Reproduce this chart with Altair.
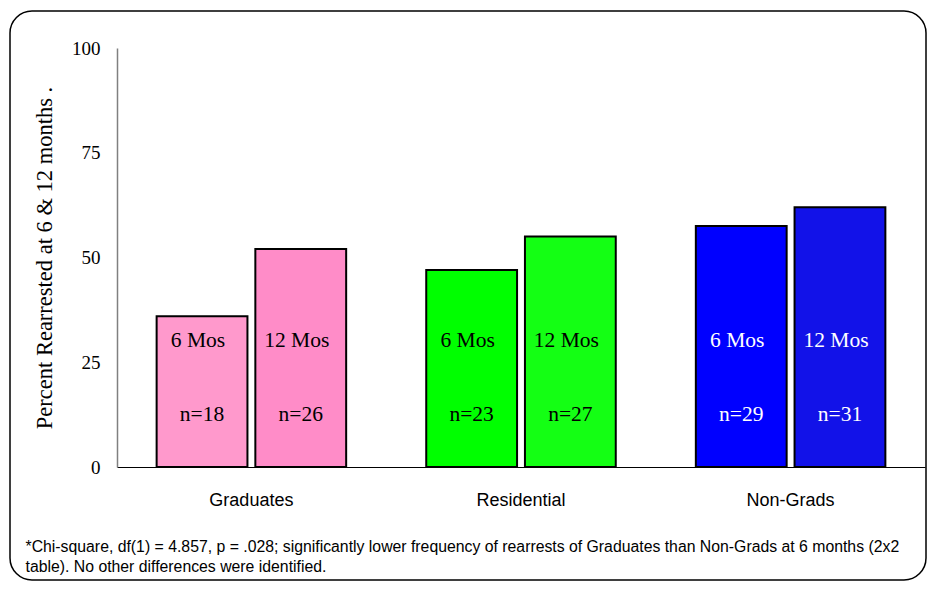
import altair as alt
import pandas as pd

groups = ["Graduates", "Residential", "Non-Grads"]
periods = ["6 Mos", "12 Mos"]
six_month_pct = [36, 47, 57.5]
twelve_month_pct = [52, 55, 62]
six_month_n = [18, 23, 29]
twelve_month_n = [26, 27, 31]
bar_colors = ["#FF99CC", "#FF8CC8", "#00FF00", "#14FF14", "#0000FF", "#1212E8"]
y_ticks = [0, 25, 50, 75, 100]
footnote = [
    "*Chi-square, df(1) = 4.857, p  = .028; significantly lower frequency of rearrests of "
    "Graduates than Non-Grads at 6 months (2x2",
    "table). No other differences were identified.",
]

rows = []
for g, p6, p12, n6, n12 in zip(groups, six_month_pct, twelve_month_pct, six_month_n, twelve_month_n):
    rows.append({"group": g, "period": "6 Mos", "pct": p6, "n": f"n={n6}", "key": f"{g} 6"})
    rows.append({"group": g, "period": "12 Mos", "pct": p12, "n": f"n={n12}", "key": f"{g} 12"})
df = pd.DataFrame(rows)
keys = list(df["key"])

serif = "Liberation Serif"
sans = "Liberation Sans"

x_enc = alt.X(
    "group:N",
    sort=groups,
    scale=alt.Scale(paddingInner=0.297, paddingOuter=0.147),
    axis=alt.Axis(
        title=footnote,
        titleX=-92,
        titleY=72,
        titleAlign="left",
        titleAnchor="start",
        titleBaseline="top",
        titleAngle=0,
        titleFont=sans,
        titleFontSize=15.8,
        titleFontWeight="normal",
        titleLineHeight=20,
        titleColor="black",
        labelAngle=0,
        labelFont=sans,
        labelFontSize=18,
        labelColor="black",
        labelPadding=24,
        ticks=False,
        domainColor="black",
        domainWidth=1.2,
    ),
)
xoff_enc = alt.XOffset("period:N", sort=periods, scale=alt.Scale(paddingInner=0.08, paddingOuter=0))
y_enc = alt.Y(
    "pct:Q",
    scale=alt.Scale(domain=[0, 100], nice=False),
    axis=alt.Axis(
        title="Percent Rearrested at 6 & 12 months .",
        titleFont=serif,
        titleFontSize=22.5,
        titleFontWeight="normal",
        titleColor="black",
        titlePadding=15,
        values=y_ticks,
        grid=False,
        ticks=False,
        tickSize=0,
        labelFont=serif,
        labelFontSize=19,
        labelColor="black",
        labelPadding=17,
        domainColor="#808080",
        domainWidth=1.5,
    ),
)

base = alt.Chart(df)

bars = base.mark_bar(stroke="black", strokeWidth=2).encode(
    x=x_enc,
    xOffset=xoff_enc,
    y=y_enc,
    color=alt.Color("key:N", scale=alt.Scale(domain=keys, range=bar_colors), legend=None),
)

text_color = alt.condition(alt.datum.group == "Non-Grads", alt.value("white"), alt.value("black"))

period_text = base.mark_text(font=serif, fontSize=21.5, dx=-4).encode(
    x=alt.X("group:N", sort=groups),
    xOffset=alt.XOffset("period:N", sort=periods),
    y=alt.datum(30),
    text="period:N",
    color=text_color,
)

n_text = base.mark_text(font=serif, fontSize=21.5).encode(
    x=alt.X("group:N", sort=groups),
    xOffset=alt.XOffset("period:N", sort=periods),
    y=alt.datum(12.5),
    text="n:N",
    color=text_color,
)

frame = (
    alt.Chart(alt.Data(values=[{"frame": 1}]))
    .mark_rect(fillOpacity=0, stroke="black", strokeWidth=1.5, cornerRadius=22)
    .encode(x=alt.value(-107), x2=alt.value(809), y=alt.value(-37), y2=alt.value(532))
)

chart = (
    alt.layer(bars, period_text, n_text, frame)
    .properties(
        width=808,
        height=419,
        autosize=alt.AutoSizeParams(type="none"),
        padding={"left": 109, "top": 40, "right": 4, "bottom": 115},
    )
    .configure_view(strokeWidth=0)
)

chart.save("out.html", embed_options={"renderer": "svg", "actions": False})
